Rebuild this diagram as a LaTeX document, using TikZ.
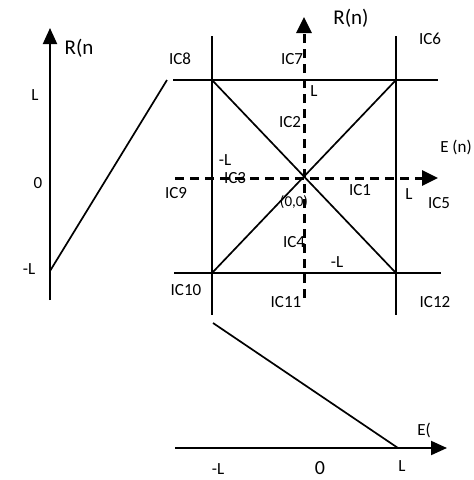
\documentclass[tikz,border=0pt]{standalone}
\usepackage{fontspec}
\setmainfont{Carlito}
\usetikzlibrary{arrows.meta}
\begin{document}
\begin{tikzpicture}[x=1pt,y=-1pt,
  lbl/.style={inner sep=0pt,font=\fontsize{17}{19}\selectfont},
  big/.style={inner sep=0pt,font=\fontsize{21}{23}\selectfont},
  sml/.style={inner sep=0pt,font=\fontsize{15}{17}\selectfont},
  solidline/.style={line width=1.7pt},
  axis/.style={line width=2pt,-{Triangle[length=16pt,width=14pt]}},
  dashaxis/.style={line width=3pt,dash pattern=on 9pt off 6pt,-{Triangle[length=16pt,width=15pt]}}]
\useasboundingbox (0,0) rectangle (474,480);
% left axis
\coordinate (la0) at (50,300);
\coordinate (la1) at (50,28);
\draw[axis] (la0) -- (la1);
\coordinate (lp0) at (50,271);
\coordinate (lp1) at (167,80);
\draw[solidline] (lp0) -- (lp1);
\node[big] (rn1) at (79,48) {R(n};
\node[lbl] (lL) at (35,95) {L};
\node[lbl] (l0) at (38,183) {0};
\node[lbl] (lmL) at (29,269) {-L};
% grid lines
\coordinate (ht0) at (173,80);
\coordinate (ht1) at (438,80);
\coordinate (hb0) at (174,273);
\coordinate (hb1) at (441,273);
\coordinate (vl0) at (212,36);
\coordinate (vl1) at (212,315);
\coordinate (vr0) at (396,36);
\coordinate (vr1) at (396,315);
\draw[solidline] (ht0) -- (ht1);
\draw[solidline] (hb0) -- (hb1);
\draw[solidline] (vl0) -- (vl1);
\draw[solidline] (vr0) -- (vr1);
\coordinate (c8) at (212,80);
\coordinate (c6) at (396,80);
\coordinate (c10) at (212,273);
\coordinate (c12) at (396,273);
\draw[solidline] (c8) -- (c12);
\draw[solidline] (c6) -- (c10);
% labels behind dashed axes
\node[lbl] (ic3) at (235,178) {IC3};
\node[sml] (o) at (294,202) {(0,0)};
% dashed axes
\coordinate (dv0) at (304,298);
\coordinate (dv1) at (304,17);
\coordinate (dh0) at (175,178);
\coordinate (dh1) at (438,178);
\draw[dashaxis] (dv0) -- (dv1);
\draw[dashaxis] (dh0) -- (dh1);
% labels
\node[big] (rn2) at (351,18) {R(n)};
\node[lbl] (ic6) at (430,39) {IC6};
\node[lbl] (ic8) at (180,59) {IC8};
\node[lbl] (ic7) at (292,59) {IC7};
\node[lbl] (tL) at (314,91) {L};
\node[lbl] (ic2) at (290,122) {IC2};
\node[lbl] (en) at (456,147) {E (n)};
\node[lbl] (mL1) at (225,160) {-L};
\node[lbl] (ic9) at (176,193) {IC9};
\node[lbl] (ic1) at (360,190) {IC1};
\node[lbl] (rL) at (409,194) {L};
\node[lbl] (ic5) at (439,203) {IC5};
\node[lbl] (ic4) at (294,242) {IC4};
\node[lbl] (mL2) at (337,262) {-L};
\node[lbl] (ic10) at (186,290) {IC10};
\node[lbl] (ic11) at (286,302) {IC11};
\node[lbl] (ic12) at (435,302) {IC12};
% bottom axis
\coordinate (ba0) at (175,448);
\coordinate (ba1) at (447,448);
\draw[axis] (ba0) -- (ba1);
\coordinate (bp0) at (213,323);
\coordinate (bp1) at (398,448);
\draw[solidline] (bp0) -- (bp1);
\node[lbl] (ee) at (424,430) {E(};
\node[lbl] (bmL) at (218,469) {-L};
\node[inner sep=0pt,font=\fontsize{20}{22}\selectfont] (b0) at (320,468) {0};
\node[lbl] (bL) at (402,466) {L};
\end{tikzpicture}
\end{document}
